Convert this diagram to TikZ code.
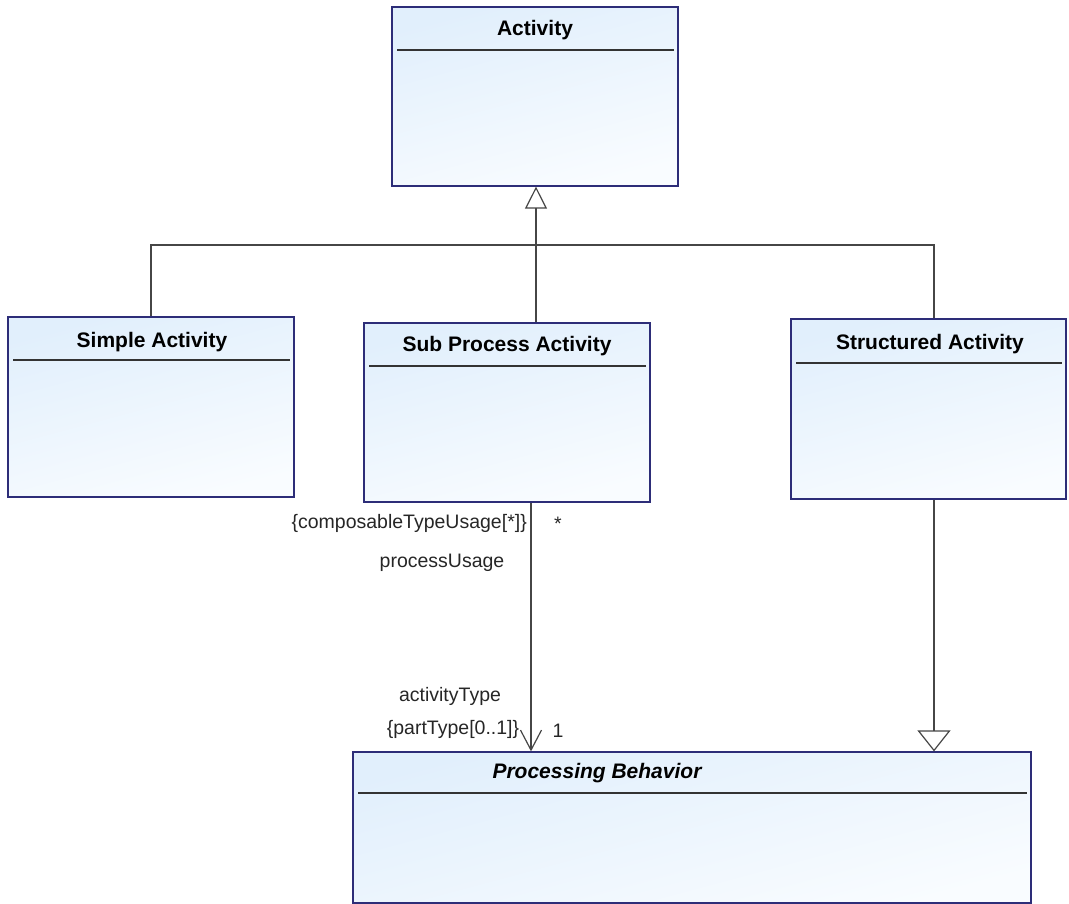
\documentclass[tikz,border=0pt]{standalone}
\usepackage{fontspec}
\setmainfont{Liberation Sans}
\usetikzlibrary{arrows.meta}

\definecolor{boxedge}{RGB}{45,45,120}
\definecolor{boxlight}{RGB}{225,239,252}
\definecolor{boxpale}{RGB}{249,252,255}
\definecolor{linegray}{RGB}{70,70,70}

\tikzset{
  classbox/.style={draw=boxedge, line width=1.2pt, inner sep=0pt,
    top color=boxlight, bottom color=boxpale, shading angle=15},
  classtitle/.style={font=\fontsize{21}{24}\selectfont\bfseries, inner sep=0pt},
  headerline/.style={draw=black!80, line width=1.1pt},
  conn/.style={draw=linegray, line width=1.2pt},
  genarrow/.style={-{Triangle[length=22pt,width=22pt,fill=white,line width=1.2pt]}},
  genarrowwide/.style={-{Triangle[length=21pt,width=33pt,fill=white,line width=1.2pt]}},
  navarrow/.style={-{Straight Barb[length=20pt,width=21pt,line width=1.2pt]}},
  rolelabel/.style={font=\fontsize{19.5}{22}\selectfont, inner sep=0pt, text=black!85}
}

% class box: name, left, top, right, bottom, title, title x, title y, header y
\newcommand\classnode[9]{%
  \node[classbox, minimum width={#4-#2}, minimum height={#5-#3}]
    (#1) at ({(#2+#4)/2},{(#3+#5)/2}) {};
  \node[classtitle] (#1-title) at (#7,#8) {#6};
  \coordinate (#1-hl) at ({#2+5},#9);
  \coordinate (#1-hr) at ({#4-4},#9);
  \draw[headerline] (#1-hl) -- (#1-hr);
}

\begin{document}
\begin{tikzpicture}[x=1pt,y=-1pt]
  \useasboundingbox (0,0) rectangle (1069,904);

  % classes
  \classnode{act}{392}{7}{678}{186}{Activity}{535}{30}{50}
  \classnode{simple}{8}{317}{294}{497}{Simple Activity}{152}{342}{360}
  \classnode{sub}{364}{323}{650}{502}{Sub Process Activity}{507}{346}{366}
  \classnode{struct}{791}{319}{1066}{499}{Structured Activity}{930}{344}{363}
  \classnode{proc}{353}{752}{1031}{903}{\itshape Processing Behavior}{597}{773}{793}

  % connector anchors
  \coordinate (bus) at (536,245);
  \coordinate (structx) at (934,0);
  \coordinate (compx) at (531,0);

  % generalization tree towards Activity
  \draw[conn] (simple.north) |- (bus);
  \draw[conn] (struct.north -| structx) |- (bus);
  \draw[conn] (sub.north -| bus) -- (bus);
  \draw[conn, line width=2pt, genarrow] (bus) -- (act.south -| bus);

  % Structured Activity specializes Processing Behavior
  \draw[conn, genarrowwide] (struct.south -| structx) -- (proc.north -| structx);

  % navigable association from Sub Process Activity
  \draw[conn, navarrow] (sub.south -| compx) -- (proc.north -| compx);

  % association end labels
  \node[rolelabel, anchor=east] (srcprop) at (527,523) {\{composableTypeUsage[*]\}};
  \node[rolelabel] (srcmult) at (558,524) {*};
  \node[rolelabel] (srcrole) at (442,563) {processUsage};
  \node[rolelabel] (tgtrole) at (450,696) {activityType};
  \node[rolelabel] (tgtprop) at (453,729) {\{partType[0..1]\}};
  \node[rolelabel] (tgtmult) at (558,731) {1};
\end{tikzpicture}
\end{document}
